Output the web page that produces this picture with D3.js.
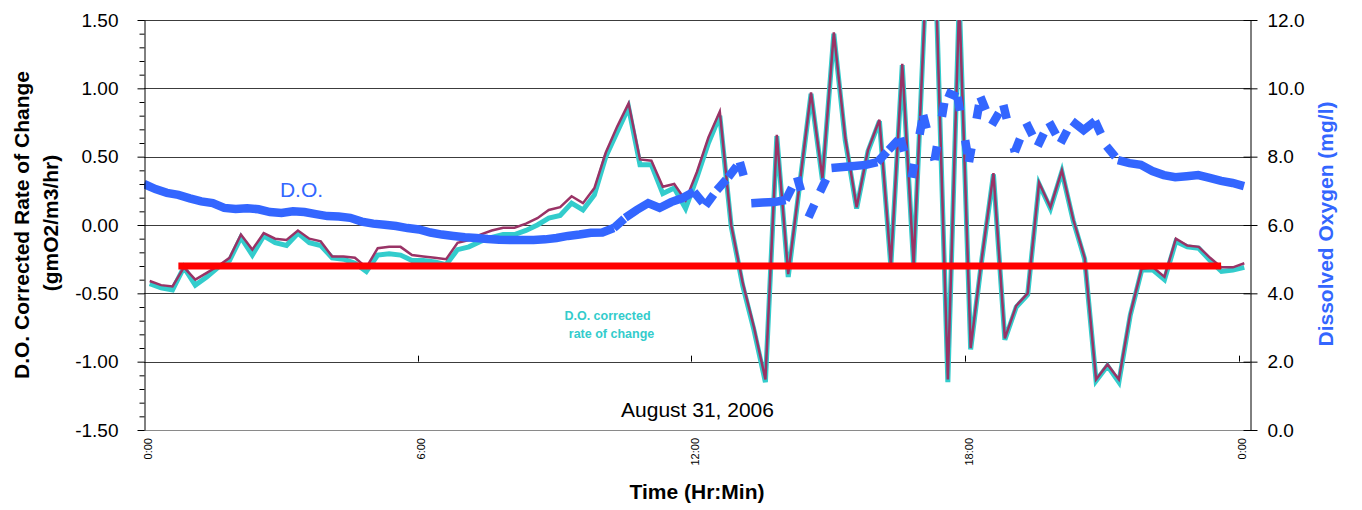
<!DOCTYPE html>
<html><head><meta charset="utf-8">
<script src="https://cdn.jsdelivr.net/npm/d3@7/dist/d3.min.js"></script>
<style>
body{margin:0;background:#fff}
svg{display:block}
text{font-family:"Liberation Sans",Arial,Helvetica,sans-serif}
</style>
</head><body>
<svg id="chart" width="1362" height="510"></svg>
<script>
// ---------- data ----------
const timeIndex = d3.range(97); // 0:00 .. 24:00 every 15 min
const timeTickIdx = [0, 24, 48, 72, 96];
const timeTickLabels = ["0:00", "6:00", "12:00", "18:00", "0:00"];

const rateCorrected = [
 -0.43,-0.46,-0.475,-0.31,-0.44,-0.38,-0.31,-0.26,-0.09,-0.22,
 -0.08,-0.13,-0.15,-0.06,-0.13,-0.15,-0.24,-0.25,-0.28,-0.34,
 -0.22,-0.21,-0.22,-0.26,-0.26,-0.27,-0.29,-0.18,-0.16,-0.12,
 -0.09,-0.07,-0.07,-0.04,0.00,0.05,0.07,0.16,0.11,0.22,
 0.50,0.68,0.86,0.44,0.44,0.23,0.27,0.12,0.35,0.60,
 0.80,-0.01,-0.44,-0.77,-1.15,0.65,-0.38,0.29,0.96,0.33,
 1.40,0.62,0.12,0.54,0.76,-0.30,1.17,-0.30,1.62,1.62,
 -1.15,1.65,-0.91,-0.24,0.37,-0.84,-0.60,-0.51,0.30,0.12,
 0.39,0.03,-0.25,-1.14,-1.03,-1.15,-0.66,-0.33,-0.33,-0.40,
 -0.12,-0.16,-0.17,-0.26,-0.34,-0.33,-0.31];

const rateRaw = [
 -0.41,-0.44,-0.45,-0.31,-0.40,-0.35,-0.30,-0.24,-0.07,-0.18,
 -0.06,-0.10,-0.11,-0.04,-0.10,-0.12,-0.23,-0.23,-0.24,-0.31,
 -0.17,-0.16,-0.16,-0.22,-0.23,-0.24,-0.25,-0.13,-0.11,-0.07,
 -0.04,-0.02,-0.02,0.01,0.05,0.11,0.13,0.21,0.16,0.27,
 0.53,0.72,0.89,0.48,0.47,0.28,0.30,0.18,0.39,0.64,
 0.83,0.00,-0.42,-0.75,-1.13,0.66,-0.36,0.30,0.97,0.34,
 1.41,0.64,0.13,0.55,0.77,-0.29,1.18,-0.29,1.62,1.62,
 -1.13,1.65,-0.90,-0.23,0.38,-0.83,-0.59,-0.50,0.31,0.13,
 0.40,0.04,-0.24,-1.13,-1.02,-1.13,-0.65,-0.32,-0.31,-0.38,
 -0.10,-0.15,-0.16,-0.24,-0.31,-0.31,-0.28];

const dissolvedOxygen = [
 7.20,7.05,6.94,6.88,6.78,6.69,6.64,6.50,6.47,6.49,
 6.46,6.38,6.35,6.40,6.38,6.32,6.26,6.25,6.21,6.10,
 6.04,6.01,5.97,5.91,5.87,5.78,5.72,5.68,5.64,5.62,
 5.59,5.57,5.56,5.56,5.56,5.58,5.62,5.68,5.72,5.77,
 5.78,5.91,6.21,6.44,6.64,6.50,6.67,6.79,6.97,6.56,
 7.02,7.40,7.84,6.64,6.66,6.67,6.73,7.40,6.23,6.97,
 7.67,7.70,7.73,7.76,7.84,8.20,8.55,7.38,9.22,7.90,
 9.89,9.75,7.84,9.75,8.93,9.51,8.14,8.99,8.31,9.01,
 8.40,9.04,8.78,9.04,8.31,7.90,7.81,7.76,7.58,7.46,
 7.40,7.43,7.46,7.38,7.29,7.23,7.14];

const meanRate = -0.30;          // horizontal reference line (left axis)
const meanSpan = [3, 94];        // start / end sample index

const leftTicks = [-1.5, -1.0, -0.5, 0, 0.5, 1.0, 1.5];
const leftMinorTicks = d3.range(-15, 16).filter(v => v % 5 !== 0).map(v => v / 10);
const rightTicks = [0, 2, 4, 6, 8, 10, 12];

// ---------- scales ----------
const L = 144, R = 1250, T = 20, B = 430;
const svg = d3.select("#chart");
svg.append("rect").attr("width", 1362).attr("height", 510).attr("fill", "#fff");

const yL = d3.scaleLinear().domain([-1.5, 1.5]).range([B, T]);
const yR = d3.scaleLinear().domain([0, 12]).range([B, T]);
const xBand = d3.scaleBand().domain(timeIndex).range([L, R]);
const xP = i => xBand(i) + xBand.bandwidth() / 2;
const xDO = d3.scalePoint().domain(timeIndex).range([L, 1244]);

// ---------- gridlines ----------
const grid = svg.append("g");
leftTicks.forEach(t => {
  const y = Math.round(yL(t)) + 0.5;
  grid.append("line").attr("x1", L).attr("x2", R).attr("y1", y).attr("y2", y)
    .attr("stroke", t === -1.5 ? "#8a8a8a" : "#3c3c3c").attr("stroke-width", 1);
});

// ---------- series ----------
svg.append("clipPath").attr("id", "plotClip").append("rect")
  .attr("x", L).attr("y", T).attr("width", R - L).attr("height", B - T);
const plot = svg.append("g").attr("clip-path", "url(#plotClip)");

const lineL = d3.line().x((d, i) => xP(i)).y(d => yL(d));
plot.append("path").datum(rateCorrected).attr("d", lineL)
  .attr("fill", "none").attr("stroke", "#33CCCC").attr("stroke-width", 5);
plot.append("path").datum(rateRaw).attr("d", lineL)
  .attr("fill", "none").attr("stroke", "#993366").attr("stroke-width", 2.5);

// D.O. line: long dash restarting on every segment; short segments stay solid
const DASH = 14, GAP = 30;
const doPts = dissolvedOxygen.map((v, k) => [xDO(k), yR(v)]);
const runs = [], longSegs = [];
let cur = [doPts[0]];
d3.pairs(doPts).forEach(([a, b]) => {
  const len = Math.hypot(b[0] - a[0], b[1] - a[1]);
  if (len <= DASH + 1) { cur.push(b); }
  else {
    if (cur.length > 1) runs.push(cur);
    longSegs.push([a, b]);
    cur = [b];
  }
});
if (cur.length > 1) runs.push(cur);
const doG = plot.append("g");
doG.selectAll("path.run").data(runs).join("path").attr("class", "run")
  .attr("d", d3.line()).attr("fill", "none")
  .attr("stroke", "#3366FF").attr("stroke-width", 8.5)
  .attr("stroke-linejoin", "miter").attr("stroke-linecap", "butt");
doG.selectAll("line").data(longSegs).join("line")
  .attr("x1", d => d[0][0]).attr("y1", d => d[0][1])
  .attr("x2", d => d[1][0]).attr("y2", d => d[1][1])
  .attr("stroke", "#3366FF").attr("stroke-width", 8.5)
  .attr("stroke-linecap", "butt").attr("stroke-dasharray", `${DASH},${GAP}`);

// mean line
plot.append("line")
  .attr("x1", xDO(meanSpan[0])).attr("x2", xDO(meanSpan[1]))
  .attr("y1", yL(meanRate)).attr("y2", yL(meanRate))
  .attr("stroke", "#FF0000").attr("stroke-width", 7);

// ---------- axes ----------
const axL = svg.append("g").attr("transform", `translate(${L + 0.5},0)`)
  .call(d3.axisLeft(yL).tickValues(leftTicks).tickSize(7).tickSizeOuter(0)
    .tickPadding(19).tickFormat(d => d.toFixed(2)));
svg.append("g").attr("transform", `translate(${L + 0.5},0)`)
  .call(d3.axisLeft(yL).tickValues(leftMinorTicks).tickSize(5).tickSizeOuter(0).tickFormat(""))
  .select(".domain").remove();

const axR = svg.append("g").attr("transform", `translate(${R + 0.5},0)`)
  .call(d3.axisRight(yR).tickValues(rightTicks).tickSize(7).tickSizeOuter(0)
    .tickPadding(10).tickFormat(d => d.toFixed(1)));
axR.selectAll(".tick line").attr("x1", -7);

[axL, axR].forEach(a => {
  a.selectAll("text").attr("font-size", 19).attr("fill", "#000")
    .attr("font-family", "'Liberation Sans', Arial, sans-serif");
  a.selectAll("line").attr("stroke", "#000");
  a.select(".domain").attr("stroke", "#000");
});

const axX = svg.append("g").attr("transform", `translate(0,${B})`)
  .call(d3.axisBottom(xBand).tickValues(timeTickIdx).tickSize(0)
    .tickFormat((d, i) => timeTickLabels[i]));
axX.select(".domain").remove();
axX.selectAll("text")
  .attr("transform", "rotate(-90)").attr("text-anchor", "end")
  .attr("x", -8).attr("y", 2).attr("dy", 0)
  .attr("font-size", 11).attr("fill", "#000")
  .attr("font-family", "'Liberation Sans', Arial, sans-serif");

// small category tick marks
svg.append("g").selectAll("line").data([24, 48, 72, 96]).join("line")
  .attr("x1", d => Math.round(xBand(d)) + 0.5).attr("x2", d => Math.round(xBand(d)) + 0.5)
  .attr("y1", yR(2) - 6).attr("y2", yR(2))
  .attr("stroke", "#000").attr("stroke-width", 1);

// ---------- titles & annotations ----------
svg.append("text").attr("transform", "translate(28.5,225) rotate(-90)")
  .attr("text-anchor", "middle").attr("font-size", 21).attr("font-weight", "bold")
  .text("D.O. Corrected Rate of Change");
svg.append("text").attr("transform", "translate(57.5,223) rotate(-90)")
  .attr("text-anchor", "middle").attr("font-size", 21).attr("font-weight", "bold")
  .text("(gmO2/m3/hr)");
svg.append("text").attr("transform", "translate(1333,224) rotate(-90)")
  .attr("text-anchor", "middle").attr("font-size", 21).attr("font-weight", "bold")
  .attr("fill", "#3366FF").text("Dissolved Oxygen (mg/l)");
svg.append("text").attr("x", 697).attr("y", 499)
  .attr("text-anchor", "middle").attr("font-size", 21).attr("font-weight", "bold")
  .text("Time (Hr:Min)");
svg.append("text").attr("x", 697.5).attr("y", 417)
  .attr("text-anchor", "middle").attr("font-size", 21).text("August 31, 2006");
svg.append("text").attr("x", 301.5).attr("y", 197)
  .attr("text-anchor", "middle").attr("font-size", 21).attr("fill", "#3366FF").text("D.O.");
svg.append("text").attr("x", 607.5).attr("y", 320)
  .attr("text-anchor", "middle").attr("font-size", 12.5).attr("font-weight", "bold")
  .attr("fill", "#33CCCC").text("D.O. corrected");
svg.append("text").attr("x", 611.5).attr("y", 338)
  .attr("text-anchor", "middle").attr("font-size", 12.5).attr("font-weight", "bold")
  .attr("fill", "#33CCCC").text("rate of change");
</script>
</body></html>
